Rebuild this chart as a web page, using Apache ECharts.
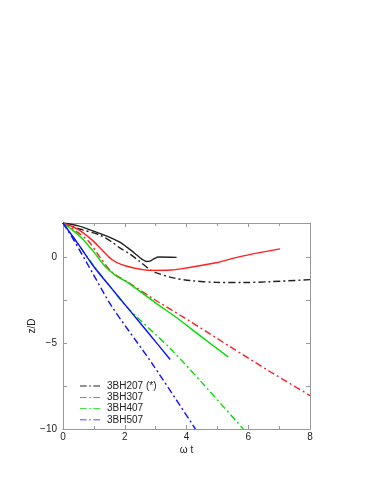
<!DOCTYPE html>
<html>
<head>
<meta charset="utf-8">
<script src="https://cdn.jsdelivr.net/npm/echarts@6/dist/echarts.min.js"></script>
<style>
  html, body { margin: 0; padding: 0; background: #fff; }
  #chart { width: 374px; height: 484px; }
</style>
</head>
<body>
<div id="chart"></div>
<script>
// [ωt, z/D] pairs
const bh207Solid = [[0, 2], [0.5, 1.83], [1.0, 1.52], [1.5, 1.18], [1.84, 0.88], [2.1, 0.55], [2.38, 0.15],
  [2.55, -0.1], [2.7, -0.24], [2.82, -0.22], [2.95, -0.08], [3.1, 0.02], [3.68, 0]];
const bh207Dash = [[0, 2], [0.54, 1.65], [1.19, 1.3], [1.58, 0.9], [1.84, 0.55], [2.16, 0.2], [2.49, -0.25],
  [2.81, -0.71], [3.03, -0.91], [3.57, -1.2], [4.11, -1.35], [4.97, -1.46], [5.84, -1.47], [6.7, -1.42], [8, -1.3]];
const bh307Solid = [[0, 2], [0.5, 1.62], [0.93, 1.03], [1.25, 0.45], [1.58, -0.13], [1.9, -0.43], [2.3, -0.62],
  [2.81, -0.76], [3.5, -0.74], [4.0, -0.62], [5.0, -0.3], [5.7, 0.03], [7.03, 0.49]];
const bh307Dash = [[0, 2], [0.4, 1.55], [0.82, 0.95], [1.2, 0.0], [1.58, -0.85], [2.1, -1.45], [3.0, -2.5],
  [4.0, -3.6], [5.41, -5.2], [6.7, -6.65], [8, -8.05]];
const bh407Solid = [[0, 2], [0.3, 1.6], [0.66, 1.03], [1.0, 0.3], [1.36, -0.52], [1.7, -1.05], [2.12, -1.5],
  [3.0, -2.65], [3.78, -3.65], [4.5, -4.65], [5.35, -5.8]];
const bh407Dash = [[0, 2], [0.5, 0.75], [1.0, -0.5], [1.5, -1.65], [2.1, -2.95], [3.0, -4.5], [3.52, -5.39],
  [4.5, -7.3], [5.84, -10]];
const bh507Solid = [[0, 2], [0.5, 0.75], [1.0, -0.55], [1.5, -1.65], [2.12, -3.0], [2.8, -4.48], [3.47, -5.95]];
const bh507Dash = [[0, 2], [0.34, 1.03], [1.0, -1.05], [1.58, -2.86], [2.88, -6.17], [4.29, -10]];

const legendNames = ['3BH207 (*)', '3BH307', '3BH407', '3BH507'];
const xTicks = [0, 2, 4, 6, 8];
const yTicks = [-10, -5, 0];

const dashDot = [7, 3, 2, 3];
const fontFamily = '"Liberation Sans", Arial, sans-serif';
const frameColor = '#999';

function mkSeries(name, data, color, dashed) {
  return {
    name: name,
    type: 'line',
    data: data,
    symbol: 'none',
    smooth: 0.3,
    animation: false,
    lineStyle: { color: color, width: 1.4, type: dashed ? dashDot : 'solid' },
    itemStyle: { color: color }
  };
}

function frameAxis(extra) {
  return Object.assign({
    type: 'value',
    axisLine: { show: true, onZero: false, lineStyle: { color: frameColor } },
    axisTick: { show: true, inside: true, length: 4, lineStyle: { color: frameColor } },
    splitLine: { show: false }
  }, extra);
}

const chart = echarts.init(document.getElementById('chart'));
chart.setOption({
  backgroundColor: '#fff',
  animation: false,
  grid: { left: 63, right: 64, top: 223, bottom: 55 },
  legend: {
    data: legendNames,
    orient: 'vertical',
    left: 80,
    top: 381,
    padding: 0,
    itemWidth: 20,
    itemHeight: 1.4,
    itemGap: 1.3,
    // dash-dot sample drawn as a filled path
    icon: 'path://M0,0H8V1H0Z M11,0H13V1H11Z M16,0H24V1H16Z',
    textStyle: { fontFamily: fontFamily, fontSize: 10, lineHeight: 8, color: '#222', padding: [0, 0, 0, 2] }
  },
  xAxis: [
    frameAxis({
      min: 0, max: 8, interval: 2,
      name: 'ω t', nameLocation: 'middle', nameGap: 16,
      nameTextStyle: { fontFamily: fontFamily, fontSize: 10, color: '#222' },
      minorTick: { show: true, splitNumber: 2, length: 3, lineStyle: { color: frameColor } },
      axisLabel: {
        margin: 3, fontFamily: fontFamily, fontSize: 10, color: '#222',
        formatter: v => xTicks.includes(v) ? String(v) : ''
      }
    }),
    frameAxis({
      min: 0, max: 8, interval: 2, position: 'top',
      minorTick: { show: true, splitNumber: 2, length: 3, lineStyle: { color: frameColor } },
      axisLabel: { show: false }
    })
  ],
  yAxis: [
    frameAxis({
      min: -10, max: 2, interval: 2.5,
      name: 'z/D', nameLocation: 'middle', nameGap: 26, nameRotate: 90, nameMoveOverlap: false,
      nameTextStyle: { fontFamily: fontFamily, fontSize: 10, color: '#222' },
      axisLabel: {
        margin: 6, fontFamily: fontFamily, fontSize: 10, color: '#222', showMaxLabel: false,
        formatter: v => yTicks.includes(v) ? String(v).replace('-', '\u2212') : ''
      }
    }),
    frameAxis({
      min: -10, max: 2, interval: 2.5, position: 'right',
      axisLabel: { show: false }
    })
  ],
  series: [
    mkSeries('3BH207 (*)', bh207Dash, '#222', true),
    mkSeries('3BH307', bh307Dash, '#ff2020', true),
    mkSeries('3BH407', bh407Dash, '#00e000', true),
    mkSeries('3BH507', bh507Dash, '#1010ff', true),
    mkSeries('3BH207 solid', bh207Solid, '#222', false),
    mkSeries('3BH307 solid', bh307Solid, '#ff2020', false),
    mkSeries('3BH407 solid', bh407Solid, '#00e000', false),
    mkSeries('3BH507 solid', bh507Solid, '#1010ff', false)
  ]
});
</script>
</body>
</html>
